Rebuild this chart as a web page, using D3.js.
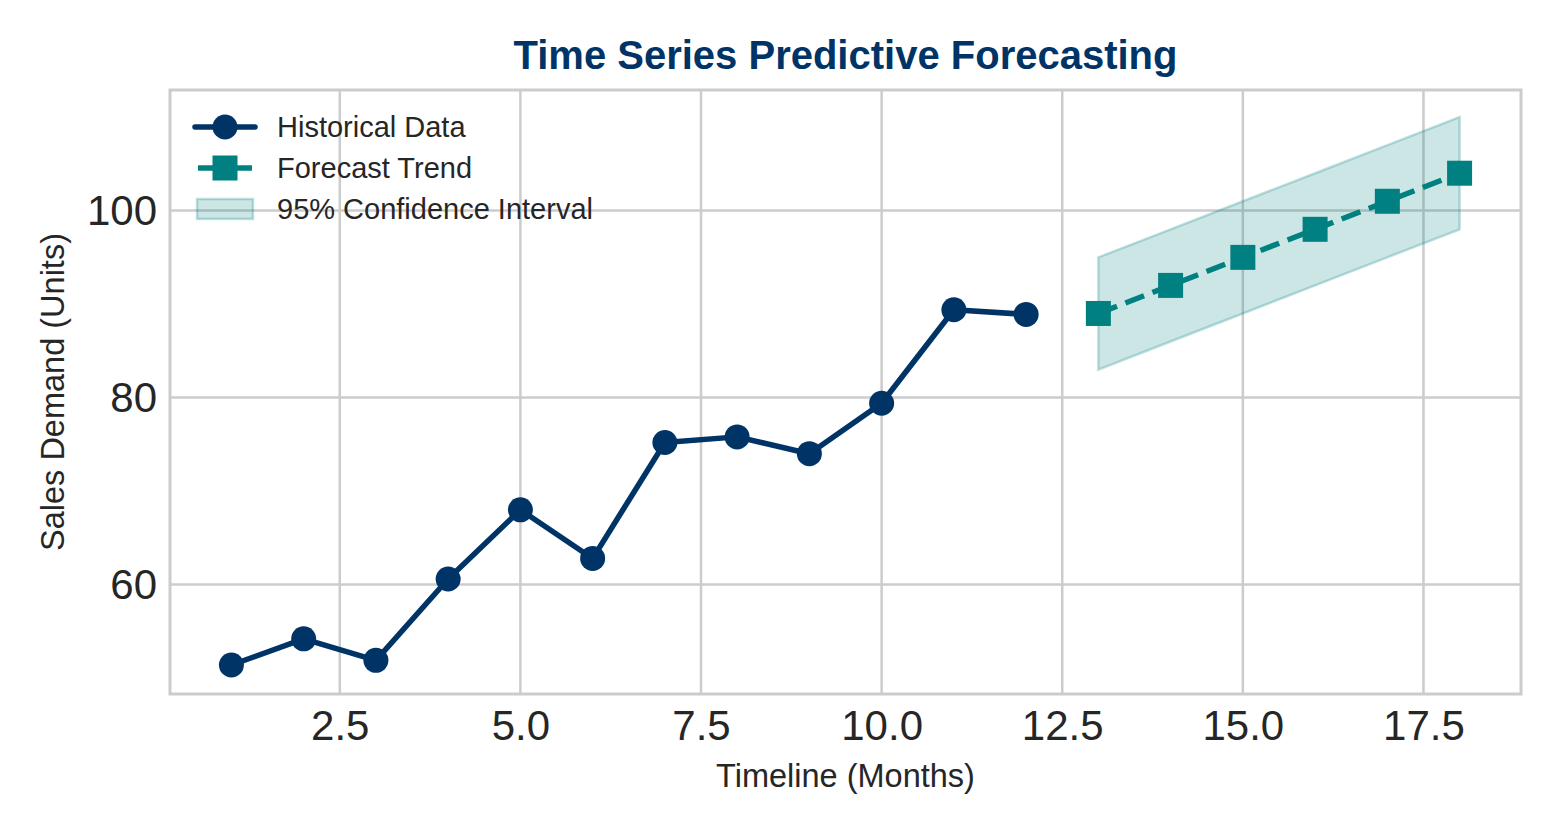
<!DOCTYPE html>
<html lang="en">
<head>
    <meta charset="UTF-8">
    <title>Time Series Predictive Forecasting</title>
    <script src="https://d3js.org/d3.v7.min.js"></script>
    <style>
        body { margin: 0; background: #fff; }
        svg text { font-family: "Liberation Sans", Arial, sans-serif; }
    </style>
</head>
<body>
    <div id="chart"></div>
    <script>
        const histMonths = [1, 2, 3, 4, 5, 6, 7, 8, 9, 10, 11, 12];
        const histValues = [51.4, 54.2, 51.9, 60.6, 68.0, 62.8, 75.2, 75.8, 74.0, 79.4, 89.4, 88.9];
        const fcMonths = [13, 14, 15, 16, 17, 18];
        const fcValues = [89, 92, 95, 98, 101, 104];
        const ciLower = [83, 86, 89, 92, 95, 98];
        const ciUpper = [95, 98, 101, 104, 107, 110];
        const xTicks = [2.5, 5.0, 7.5, 10.0, 12.5, 15.0, 17.5];
        const yTicks = [60, 80, 100];

        const width = 1560, height = 832;
        const margin = { top: 90, right: 39, bottom: 138, left: 170 };
        const innerWidth = width - margin.left - margin.right;
        const innerHeight = height - margin.top - margin.bottom;

        const navy = "#003366";
        const teal = "#008080";

        const svg = d3.select("#chart").append("svg")
            .attr("width", width)
            .attr("height", height);

        const g = svg.append("g")
            .attr("transform", `translate(${margin.left},${margin.top})`);

        const x = d3.scaleLinear().domain([0.15, 18.85]).range([0, innerWidth]);
        const y = d3.scaleLinear().domain([48.3, 112.9]).range([innerHeight, 0]);

        // grid
        g.append("g").selectAll("line").data(xTicks).join("line")
            .attr("x1", d => x(d)).attr("x2", d => x(d))
            .attr("y1", 0).attr("y2", innerHeight)
            .attr("stroke", "#cccccc").attr("stroke-width", 2.5);
        g.append("g").selectAll("line").data(yTicks).join("line")
            .attr("y1", d => y(d)).attr("y2", d => y(d))
            .attr("x1", 0).attr("x2", innerWidth)
            .attr("stroke", "#cccccc").attr("stroke-width", 2.5);

        // axes (labels only, whitegrid look)
        const xAxis = g.append("g")
            .attr("transform", `translate(0,${innerHeight})`)
            .call(d3.axisBottom(x).tickValues(xTicks).tickFormat(d3.format(".1f")).tickSize(0).tickPadding(16));
        const yAxis = g.append("g")
            .call(d3.axisLeft(y).tickValues(yTicks).tickSize(0).tickPadding(13));
        [xAxis, yAxis].forEach(a => {
            a.select(".domain").remove();
            a.selectAll("text").attr("font-size", 42).attr("fill", "#262626")
                .attr("font-family", "Liberation Sans, Arial, sans-serif");
        });

        // frame
        g.append("rect")
            .attr("width", innerWidth).attr("height", innerHeight)
            .attr("fill", "none").attr("stroke", "#cccccc").attr("stroke-width", 3);

        // confidence band
        const ciData = fcMonths.map((m, i) => ({ m, lo: ciLower[i], hi: ciUpper[i] }));
        g.append("path").datum(ciData)
            .attr("d", d3.area().x(d => x(d.m)).y0(d => y(d.lo)).y1(d => y(d.hi)))
            .attr("fill", teal).attr("fill-opacity", 0.2)
            .attr("stroke", teal).attr("stroke-opacity", 0.25).attr("stroke-width", 2.5);

        // historical line
        const hist = histMonths.map((m, i) => ({ m, v: histValues[i] }));
        const line = d3.line().x(d => x(d.m)).y(d => y(d.v));
        g.append("path").datum(hist)
            .attr("d", line)
            .attr("fill", "none").attr("stroke", navy).attr("stroke-width", 5.5)
            .attr("stroke-linejoin", "round").attr("stroke-linecap", "round");
        g.append("g").selectAll("circle").data(hist).join("circle")
            .attr("cx", d => x(d.m)).attr("cy", d => y(d.v)).attr("r", 12.5)
            .attr("fill", navy);

        // forecast line
        const fc = fcMonths.map((m, i) => ({ m, v: fcValues[i] }));
        g.append("path").datum(fc)
            .attr("d", line)
            .attr("fill", "none").attr("stroke", teal).attr("stroke-width", 5.5)
            .attr("stroke-dasharray", "20,9");
        const sq = 25;
        g.append("g").selectAll("rect").data(fc).join("rect")
            .attr("x", d => x(d.m) - sq / 2).attr("y", d => y(d.v) - sq / 2)
            .attr("width", sq).attr("height", sq)
            .attr("fill", teal);

        // legend
        const legend = g.append("g");
        const lx0 = 25, lx1 = 85, lxc = 55;
        const rows = [37, 78, 119];
        legend.append("line").attr("x1", lx0).attr("x2", lx1).attr("y1", rows[0]).attr("y2", rows[0])
            .attr("stroke", navy).attr("stroke-width", 5.5).attr("stroke-linecap", "round");
        legend.append("circle").attr("cx", lxc).attr("cy", rows[0]).attr("r", 12.5).attr("fill", navy);
        legend.append("line").attr("x1", lx0 + 3).attr("x2", lx1 - 3).attr("y1", rows[1]).attr("y2", rows[1])
            .attr("stroke", teal).attr("stroke-width", 5.5);
        legend.append("rect").attr("x", lxc - sq / 2).attr("y", rows[1] - sq / 2)
            .attr("width", sq).attr("height", sq).attr("fill", teal);
        legend.append("rect").attr("x", lx0 + 2).attr("y", rows[2] - 10).attr("width", 56).attr("height", 20)
            .attr("fill", teal).attr("fill-opacity", 0.2)
            .attr("stroke", teal).attr("stroke-opacity", 0.25).attr("stroke-width", 2.5);
        const labels = ["Historical Data", "Forecast Trend", "95% Confidence Interval"];
        legend.selectAll("text.lab").data(labels).join("text")
            .attr("class", "lab")
            .attr("x", 107).attr("y", (d, i) => rows[i])
            .attr("dy", "0.35em")
            .attr("font-size", 29).attr("fill", "#262626")
            .text(d => d);

        // title and axis labels
        svg.append("text")
            .attr("x", margin.left + innerWidth / 2).attr("y", 69)
            .attr("text-anchor", "middle")
            .attr("font-size", 40).attr("font-weight", "bold").attr("fill", navy)
            .text("Time Series Predictive Forecasting");
        svg.append("text")
            .attr("x", margin.left + innerWidth / 2).attr("y", 787)
            .attr("text-anchor", "middle")
            .attr("font-size", 32.5).attr("fill", "#262626")
            .text("Timeline (Months)");
        svg.append("text")
            .attr("transform", `translate(64,${margin.top + innerHeight / 2}) rotate(-90)`)
            .attr("text-anchor", "middle")
            .attr("font-size", 32.5).attr("fill", "#262626")
            .text("Sales Demand (Units)");
    </script>
</body>
</html>
